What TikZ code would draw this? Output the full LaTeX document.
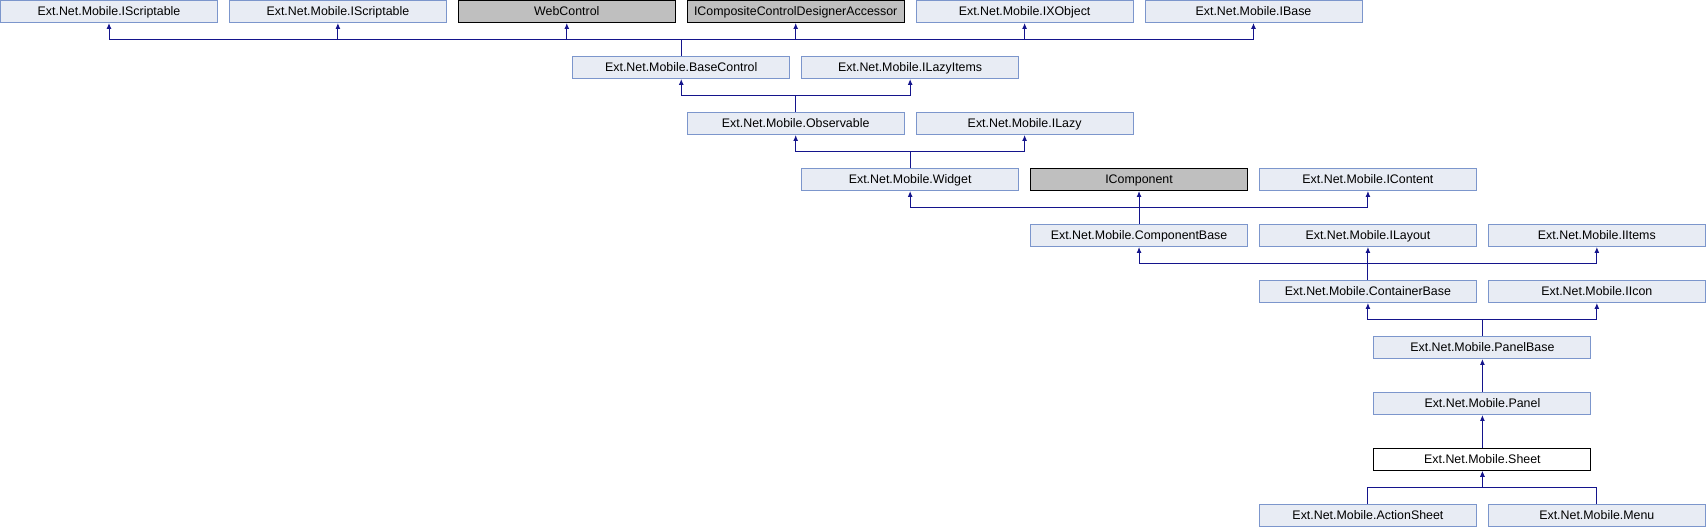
\documentclass[tikz,border=0pt]{standalone}
\usepackage{fontspec}
\setmainfont{Liberation Sans}
\usetikzlibrary{arrows.meta}

\definecolor{boxfill}{RGB}{232,236,244}
\definecolor{boxline}{RGB}{124,150,204}
\definecolor{extfill}{RGB}{191,191,191}
\definecolor{edgeblue}{RGB}{20,20,140}

\tikzset{
  cls/.style={draw=boxline, fill=boxfill, line width=0.75pt, anchor=north west,
    minimum width=162.75pt, minimum height=16.5pt, inner sep=0pt,
    text height=6.7pt, text depth=0pt,
    font=\fontsize{9.3}{11}\selectfont},
  extcls/.style={cls, draw=black, fill=extfill},
  curcls/.style={cls, draw=black, fill=white},
  inh/.style={draw=edgeblue, line width=0.75pt, -{Latex[length=4.5pt,width=3.75pt]}}
}

\begin{document}
\begin{tikzpicture}[x=85.8375pt, y=-0.75pt]
\useasboundingbox (0,0) rectangle (14.915,528);

% Class box: style, name, column, top, text
\newcommand{\classbox}[5]{
    \node[#1] (#2) at (#3,#4) {#5};
}

% Row 0: base interfaces
\classbox{cls}{scr1}{0}{0}{Ext.Net.Mobile.IScriptable}
\classbox{cls}{scr2}{2}{0}{Ext.Net.Mobile.IScriptable}
\classbox{extcls}{web}{4}{0}{WebControl}
\classbox{extcls}{iccda}{6}{0}{ICompositeControlDesignerAccessor}
\classbox{cls}{ixobj}{8}{0}{Ext.Net.Mobile.IXObject}
\classbox{cls}{ibase}{10}{0}{Ext.Net.Mobile.IBase}

% Rows 1..3
\classbox{cls}{basectl}{5}{56}{Ext.Net.Mobile.BaseControl}
\classbox{cls}{lazyitems}{7}{56}{Ext.Net.Mobile.ILazyItems}
\classbox{cls}{observ}{6}{112}{Ext.Net.Mobile.Observable}
\classbox{cls}{ilazy}{8}{112}{Ext.Net.Mobile.ILazy}
\classbox{cls}{widget}{7}{168}{Ext.Net.Mobile.Widget}
\classbox{extcls}{icomp}{9}{168}{IComponent}
\classbox{cls}{icontent}{11}{168}{Ext.Net.Mobile.IContent}

% Rows 4..5
\classbox{cls}{compbase}{9}{224}{Ext.Net.Mobile.ComponentBase}
\classbox{cls}{ilayout}{11}{224}{Ext.Net.Mobile.ILayout}
\classbox{cls}{iitems}{13}{224}{Ext.Net.Mobile.IItems}
\classbox{cls}{contbase}{11}{280}{Ext.Net.Mobile.ContainerBase}
\classbox{cls}{iicon}{13}{280}{Ext.Net.Mobile.IIcon}

% Rows 6..9
\classbox{cls}{panelbase}{12}{336}{Ext.Net.Mobile.PanelBase}
\classbox{cls}{panel}{12}{392}{Ext.Net.Mobile.Panel}
\classbox{curcls}{sheet}{12}{448}{Ext.Net.Mobile.Sheet}
\classbox{cls}{actsheet}{11}{504}{Ext.Net.Mobile.ActionSheet}
\classbox{cls}{menu}{13}{504}{Ext.Net.Mobile.Menu}

% Inheritance edges (child -> parent)
\foreach \p in {scr1,scr2,web,iccda,ixobj,ibase}
    \draw[inh] (basectl.north) -- ++(0,-16) -| (\p.south);
\foreach \p in {basectl,lazyitems}
    \draw[inh] (observ.north) -- ++(0,-16) -| (\p.south);
\foreach \p in {observ,ilazy}
    \draw[inh] (widget.north) -- ++(0,-16) -| (\p.south);
\foreach \p in {widget,icomp,icontent}
    \draw[inh] (compbase.north) -- ++(0,-16) -| (\p.south);
\foreach \p in {compbase,ilayout,iitems}
    \draw[inh] (contbase.north) -- ++(0,-16) -| (\p.south);
\foreach \p in {contbase,iicon}
    \draw[inh] (panelbase.north) -- ++(0,-16) -| (\p.south);
\draw[inh] (panel.north) -- (panelbase.south);
\draw[inh] (sheet.north) -- (panel.south);
\foreach \c in {actsheet,menu}
    \draw[inh] (\c.north) -- ++(0,-16) -| (sheet.south);
\end{tikzpicture}
\end{document}
